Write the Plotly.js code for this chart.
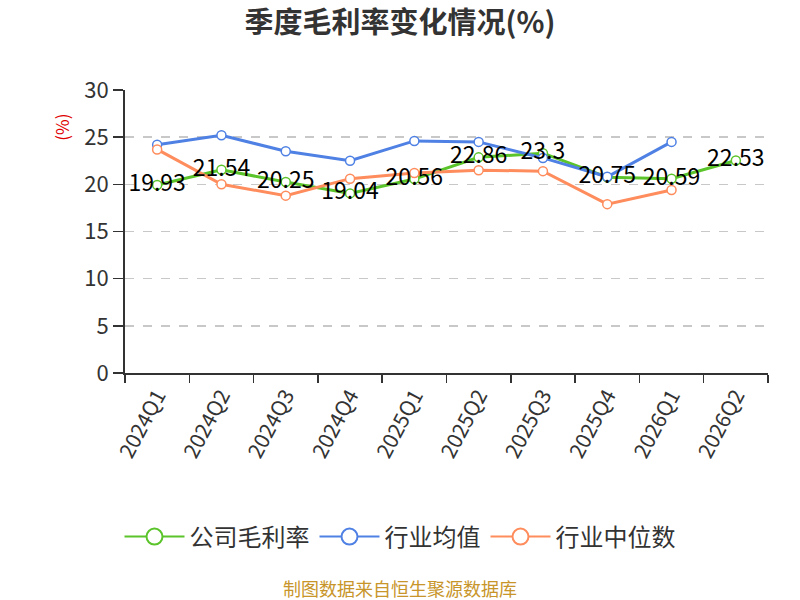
<!DOCTYPE html>
<html>
<head>
<meta charset="utf-8">
<script src="https://cdn.plot.ly/plotly-3.0.1.min.js"></script>
<style>
	html, body { margin: 0; padding: 0; background: #fff; }
	#chart { width: 800px; height: 600px; }
</style>
</head>
<body>
<div id="chart"></div>
<script>
const quarters = ['2024Q1', '2024Q2', '2024Q3', '2024Q4', '2025Q1', '2025Q2', '2025Q3', '2025Q4', '2026Q1', '2026Q2'];
const companyMargin = [19.93, 21.54, 20.25, 19.04, 20.56, 22.86, 23.3, 20.75, 20.59, 22.53];
const industryAvg = [24.2, 25.2, 23.5, 22.5, 24.6, 24.5, 22.8, 20.8, 24.5, null];
const industryMedian = [23.7, 20.0, 18.8, 20.6, 21.2, 21.5, 21.4, 17.9, 19.4, null];

const font = '"Noto Sans CJK SC", "Noto Sans", sans-serif';
const colors = ['#5ac42a', '#4f81e4', '#ff8c5c'];
const names = ['公司毛利率', '行业均值', '行业中位数'];

function series(name, values, color) {
	return {
		x: quarters,
		y: values,
		name: name,
		type: 'scatter',
		mode: 'lines+markers',
		line: { color: color, width: 3 },
		marker: { size: 9, color: '#fff', line: { color: color, width: 1.5 } },
		cliponaxis: false,
		showlegend: false
	};
}

// legend-only entries with bigger open circles
function legendItem(name, color) {
	return {
		x: [null],
		y: [null],
		name: name,
		type: 'scatter',
		mode: 'lines+markers',
		line: { color: color, width: 2 },
		marker: { size: 16, color: '#fff', line: { color: color, width: 2 } }
	};
}

const data = [
	series(names[0], companyMargin, colors[0]),
	series(names[1], industryAvg, colors[1]),
	series(names[2], industryMedian, colors[2]),
	{
		x: quarters,
		y: companyMargin,
		type: 'scatter',
		mode: 'text',
		text: companyMargin.map(v => String(v)),
		textposition: 'middle center',
		textfont: { family: font, size: 23, color: '#000' },
		cliponaxis: false,
		showlegend: false
	},
	legendItem(names[0], colors[0]),
	legendItem(names[1], colors[1]),
	legendItem(names[2], colors[2])
];

const layout = {
	width: 800,
	height: 600,
	margin: { l: 125, r: 32, t: 90, b: 227 },
	paper_bgcolor: '#fff',
	plot_bgcolor: '#fff',
	font: { family: font, color: '#333' },
	title: {
		text: '<b>季度毛利率变化情况(%)</b>',
		font: { family: font, size: 29, color: '#333' },
		x: 0.5, xanchor: 'center',
		y: 0.962, yanchor: 'middle'
	},
	xaxis: {
		type: 'category',
		range: [-0.5, 9.5],
		tickson: 'boundaries',
		ticks: 'outside',
		ticklen: 8,
		tickcolor: '#333',
		tickwidth: 1.5,
		tickangle: -62,
		tickfont: { family: font, size: 21, color: '#333' },
		showline: true,
		linecolor: '#333',
		linewidth: 2,
		showgrid: false,
		zeroline: false,
		fixedrange: true
	},
	yaxis: {
		range: [0, 30],
		dtick: 5,
		ticks: 'outside',
		ticklen: 10,
		tickcolor: '#333',
		tickwidth: 1.5,
		tickfont: { family: font, size: 22, color: '#333' },
		showline: true,
		linecolor: '#333',
		linewidth: 2,
		showgrid: true,
		gridcolor: '#c8c8c8',
		griddash: 'dash',
		gridwidth: 1.5,
		zeroline: false,
		fixedrange: true
	},
	legend: {
		orientation: 'h',
		xref: 'container',
		x: 0.5, xanchor: 'center',
		yref: 'container',
		y: 0.105, yanchor: 'middle',
		font: { family: font, size: 24, color: '#333' },
		itemwidth: 60
	},
	annotations: [
		{
			text: '(%)',
			xref: 'paper', yref: 'paper',
			x: -0.098, y: 0.87,
			xanchor: 'center', yanchor: 'middle',
			textangle: -90,
			showarrow: false,
			font: { family: font, size: 17, color: '#e00000' }
		},
		{
			text: '制图数据来自恒生聚源数据库',
			xref: 'paper', yref: 'paper',
			x: 0.428, y: -0.76,
			xanchor: 'center', yanchor: 'middle',
			showarrow: false,
			font: { family: font, size: 18, color: '#c8952a' }
		}
	]
};

Plotly.newPlot('chart', data, layout, { displayModeBar: false, staticPlot: true });
</script>
</body>
</html>
